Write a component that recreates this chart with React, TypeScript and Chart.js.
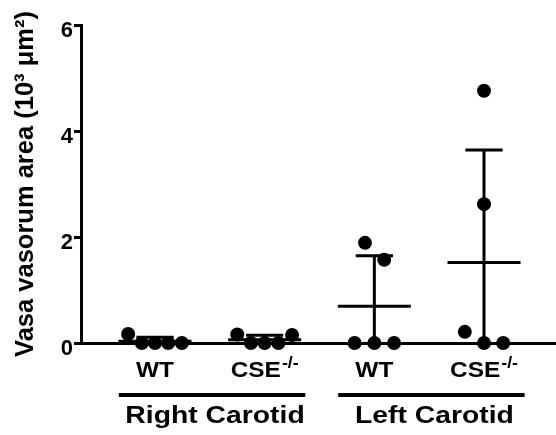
import React, { useEffect, useRef } from 'react';
import { Chart, registerables } from 'chart.js';

Chart.register(...registerables);

// ---- data ----
const categories = ['WT', 'CSE', 'WT', 'CSE'];
const categorySup = ['', '-/-', '', '-/-'];
const groupLabels = ['Right Carotid', 'Left Carotid'];
const rightWT = [0.17, 0, 0, 0, 0];
const rightCSE = [0.16, 0, 0, 0, 0.15];
const leftWT = [1.89, 1.57, 0, 0, 0];
const leftCSE = [4.76, 2.62, 0.21, 0, 0];
const jitterRightWT = [-0.245, -0.12, 0, 0.12, 0.245];
const jitterRightCSE = [-0.25, -0.125, 0, 0.125, 0.25];
const jitterLeftWT = [-0.085, 0.09, -0.18, 0, 0.18];
const jitterLeftCSE = [0, 0, -0.175, 0, 0.175];
const yTicks = [0, 2, 4, 6];
const yTitle = 'Vasa vasorum area (10\u00B3 \u03BCm\u00B2)';

const seriesValues = [rightWT, rightCSE, leftWT, leftCSE];
const seriesJitter = [jitterRightWT, jitterRightCSE, jitterLeftWT, jitterLeftCSE];

const FONT = '"Liberation Sans", Arial, Helvetica, sans-serif';

function mean(a: number[]) {
  return a.reduce((s, v) => s + v, 0) / a.length;
}
function sd(a: number[]) {
  const m = mean(a);
  return Math.sqrt(a.reduce((s, v) => s + (v - m) * (v - m), 0) / (a.length - 1));
}

function drawScaledText(ctx: any, text: string, x: number, y: number, sx: number) {
  ctx.save();
  ctx.translate(x, y);
  ctx.scale(sx, 1);
  ctx.fillText(text, 0, 0);
  ctx.restore();
}

const customPlugin = {
  id: 'customDraw',
  beforeDatasetsDraw(chart: any) {
    const { ctx, scales } = chart;
    const xs = scales.x;
    const ys = scales.y;
    ctx.save();
    ctx.strokeStyle = '#000';
    ctx.lineWidth = 3;
    ctx.lineCap = 'butt';
    seriesValues.forEach((vals, i) => {
      const c = i + 1;
      const m = mean(vals);
      const s = sd(vals);
      const hi = m + s;
      const lo = Math.max(0, m - s);
      ctx.beginPath();
      ctx.moveTo(xs.getPixelForValue(c - 0.333), ys.getPixelForValue(m));
      ctx.lineTo(xs.getPixelForValue(c + 0.333), ys.getPixelForValue(m));
      ctx.stroke();
      ctx.beginPath();
      ctx.moveTo(xs.getPixelForValue(c), ys.getPixelForValue(lo));
      ctx.lineTo(xs.getPixelForValue(c), ys.getPixelForValue(hi));
      ctx.stroke();
      ctx.beginPath();
      ctx.moveTo(xs.getPixelForValue(c - 0.17), ys.getPixelForValue(hi));
      ctx.lineTo(xs.getPixelForValue(c + 0.17), ys.getPixelForValue(hi));
      ctx.stroke();
    });
    ctx.restore();
  },
  afterDraw(chart: any) {
    const { ctx, scales, chartArea } = chart;
    const xs = scales.x;
    const base = chartArea.bottom;
    ctx.save();
    ctx.fillStyle = '#000';
    ctx.strokeStyle = '#000';
    ctx.textBaseline = 'alphabetic';
    ctx.textAlign = 'left';
    const sxLab = 1.11;
    categories.forEach((lab, i) => {
      const cx = xs.getPixelForValue(i + 1);
      const sup = categorySup[i];
      ctx.font = `bold 22px ${FONT}`;
      const w1 = ctx.measureText(lab).width * sxLab;
      ctx.font = `bold 16px ${FONT}`;
      const w2 = sup ? ctx.measureText(sup).width * sxLab + 1 : 0;
      const x0 = cx - (w1 + w2) / 2;
      ctx.font = `bold 22px ${FONT}`;
      drawScaledText(ctx, lab, x0, base + 34, sxLab);
      if (sup) {
        ctx.font = `bold 16px ${FONT}`;
        drawScaledText(ctx, sup, x0 + w1 + 1, base + 25, sxLab);
      }
    });
    groupLabels.forEach((g, gi) => {
      const c1 = gi * 2 + 1;
      const c2 = c1 + 1;
      const xa = xs.getPixelForValue(c1 - 0.33);
      const xb = xs.getPixelForValue(c2 + 0.37);
      ctx.lineWidth = 4;
      ctx.beginPath();
      ctx.moveTo(xa, base + 52);
      ctx.lineTo(xb, base + 52);
      ctx.stroke();
      ctx.font = `bold 24px ${FONT}`;
      const sxG = 1.18;
      const w = ctx.measureText(g).width * sxG;
      drawScaledText(ctx, g, (xa + xb) / 2 + 3 - w / 2, base + 80, sxG);
    });
    ctx.restore();
  },
};

export default function App() {
  const ref = useRef<HTMLCanvasElement>(null);
  useEffect(() => {
    if (!ref.current) return;
    const datasets = seriesValues.map((vals, i) => ({
      label: categories[i] + categorySup[i],
      data: vals.map((v, j) => ({ x: i + 1 + seriesJitter[i][j], y: v })),
      pointRadius: 7,
      pointHoverRadius: 7,
      backgroundColor: '#000',
      borderColor: '#000',
      borderWidth: 0,
      clip: false as any,
    }));
    const chart = new Chart(ref.current, {
      type: 'scatter',
      data: { datasets },
      plugins: [customPlugin],
      options: {
        animation: false,
        responsive: false,
        events: [],
        layout: { autoPadding: false, padding: { top: 25, left: 0, right: 0, bottom: 0 } },
        plugins: { legend: { display: false }, tooltip: { enabled: false } },
        scales: {
          x: {
            type: 'linear',
            min: 0.3252,
            max: 4.6565,
            grid: { display: false },
            ticks: { display: false },
            border: { display: true, width: 3, color: '#000' },
            afterFit: (s: any) => {
              s.height = 92;
              s.paddingLeft = 0;
              s.paddingRight = 0;
            },
          },
          y: {
            type: 'linear',
            min: 0,
            max: 6,
            afterBuildTicks: (s: any) => {
              s.ticks = yTicks.map((v) => ({ value: v }));
            },
            afterFit: (s: any) => {
              s.width = 81;
              s.paddingTop = 0;
              s.paddingBottom = 0;
            },
            grid: {
              display: true,
              drawOnChartArea: false,
              drawTicks: true,
              tickLength: 7,
              lineWidth: 3,
              color: '#000',
            },
            border: { display: true, width: 3, color: '#000' },
            ticks: {
              color: '#000',
              padding: 1,
              labelOffset: 6,
              font: { family: FONT, size: 22, weight: 'bold' },
            },
            title: {
              display: true,
              text: yTitle,
              color: '#000',
              padding: { top: 11, bottom: 0 },
              font: { family: FONT, size: 25.5, weight: 'bold' },
            },
          },
        },
      },
    });
    return () => chart.destroy();
  }, []);
  return (
    <div style={{ position: 'absolute', left: 0, top: 0, width: 556, height: 435, background: '#fff' }}>
      <canvas ref={ref} width={556} height={435} style={{ display: 'block' }} />
    </div>
  );
}
